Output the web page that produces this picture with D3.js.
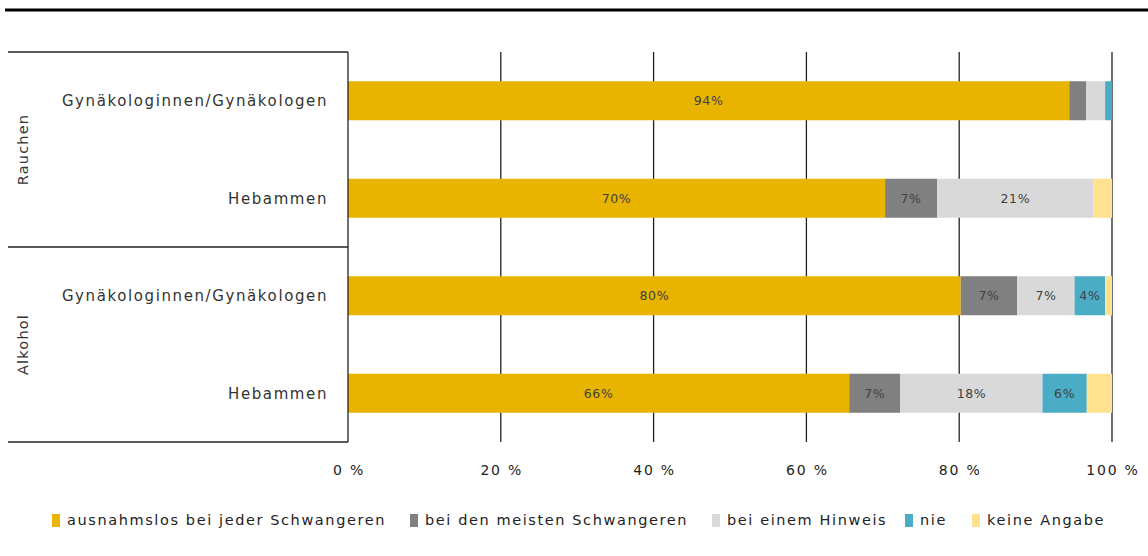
<!DOCTYPE html>
<html><head><meta charset="utf-8">
<script src="https://cdn.jsdelivr.net/npm/d3@7"></script>
<style>body{margin:0;background:#fff;font-family:"DejaVu Sans",sans-serif;}</style>
</head><body><svg id="c" width="1148" height="556"></svg>
<script>
const groups = ["Rauchen","Alkohol"];
const rowGroups = ["Rauchen","Rauchen","Alkohol","Alkohol"];
const rowLabels = ["Gynäkologinnen/Gynäkologen","Hebammen","Gynäkologinnen/Gynäkologen","Hebammen"];
const seriesNames = ["ausnahmslos bei jeder Schwangeren","bei den meisten Schwangeren","bei einem Hinweis","nie","keine Angabe"];
const ausnahmslos = [94.4, 70.3, 80.2, 65.6];
const meisten     = [2.2, 6.8, 7.4, 6.7];
const hinweis     = [2.5, 20.5, 7.5, 18.6];
const nie         = [0.9, 0, 4.0, 5.8];
const keineAngabe = [0, 2.4, 0.9, 3.3];
const shownLabels = [["94%","","","",""],["70%","7%","21%","",""],["80%","7%","7%","4%",""],["66%","7%","18%","6%",""]];
const ticks = [0,20,40,60,80,100];
const colors = ["#E8B400","#808080","#D9D9D9","#4BACC6","#FFE28F"];

const svg = d3.select("#c");
const x = d3.scaleLinear().domain([0,100]).range([348,1112]);
const y = d3.scaleBand().domain(d3.range(4)).range([52,442]).paddingInner(0.6).paddingOuter(0.3);
const seriesArr = [ausnahmslos, meisten, hinweis, nie, keineAngabe];
const data = d3.range(4).map(i => { const o = {i}; seriesNames.forEach((s,k)=>o[s]=seriesArr[k][i]); return o; });
const stack = d3.stack().keys(seriesNames)(data);

// top rule
svg.append("line").attr("x1",5).attr("x2",1148).attr("y1",10).attr("y2",10).attr("stroke","#000").attr("stroke-width",3);

// gridlines
svg.append("g").selectAll("line").data(ticks.slice(1)).join("line")
  .attr("x1",d=>x(d)).attr("x2",d=>x(d)).attr("y1",52).attr("y2",442)
  .attr("stroke","#222").attr("stroke-width",1.3);

// bars
stack.forEach((layer,k)=>{
  svg.append("g").selectAll("rect").data(layer).join("rect")
    .attr("x",d=>x(d[0])).attr("width",d=>Math.max(0,x(d[1])-x(d[0])))
    .attr("y",(d,i)=>y(i)).attr("height",y.bandwidth()).attr("fill",colors[k]);
  svg.append("g").selectAll("text").data(layer).join("text")
    .attr("x",d=>(x(d[0])+x(d[1]))/2).attr("y",(d,i)=>y(i)+y.bandwidth()/2)
    .attr("dy","0.35em").attr("text-anchor","middle").attr("font-size",12.5)
    .attr("letter-spacing",0.6)
    .attr("fill","#404040").text((d,i)=>shownLabels[i][k]);
});

// left frame
const frame = svg.append("g").attr("stroke","#222").attr("stroke-width",1.3);
[52,247,442].forEach(yy=>frame.append("line").attr("x1",8).attr("x2",348).attr("y1",yy).attr("y2",yy));
frame.append("line").attr("x1",348).attr("x2",348).attr("y1",52).attr("y2",442);

// row labels
svg.append("g").selectAll("text").data(rowLabels).join("text")
  .attr("x",328).attr("y",(d,i)=>y(i)+y.bandwidth()/2).attr("dy","0.35em")
  .attr("text-anchor","end").attr("font-size",15).attr("letter-spacing",1.6)
  .attr("fill","#333").text(d=>d);

// group labels
groups.forEach((g,gi)=>{
  const idx = rowGroups.map((r,i)=>r===g?i:-1).filter(i=>i>=0);
  const cy = (y(idx[0]) + y(idx[idx.length-1]) + y.bandwidth())/2;
  svg.append("text").attr("transform",`translate(28,${cy}) rotate(-90)`)
    .attr("text-anchor","middle").attr("font-size",14.5).attr("letter-spacing",1.2)
    .attr("fill","#333").text(g);
});

// x axis labels
svg.append("g").selectAll("text").data(ticks).join("text")
  .attr("x",d=>x(d)+1).attr("y",475).attr("text-anchor","middle")
  .attr("font-size",14).attr("letter-spacing",1.8).attr("fill","#222").text(d=>d+" %");

// legend
const legX = [52,410,712,905,972];
const leg = svg.append("g").selectAll("g").data(seriesNames).join("g")
  .attr("transform",(d,i)=>`translate(${legX[i]},520)`);
leg.append("rect").attr("x",0).attr("y",-6).attr("width",8).attr("height",13).attr("fill",(d,i)=>colors[i]);
leg.append("text").attr("x",15).attr("y",0).attr("dy","0.35em").attr("font-size",14.5)
  .attr("letter-spacing",1.6).attr("fill","#222").text(d=>d);
</script></body></html>
